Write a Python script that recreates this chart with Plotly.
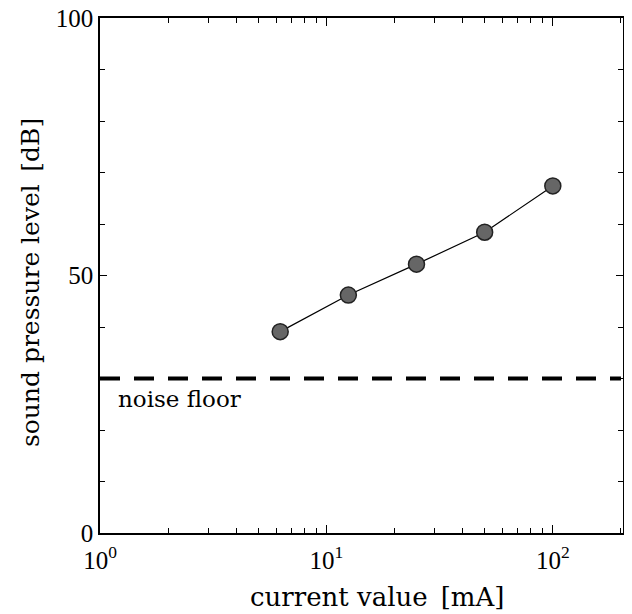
import plotly.graph_objects as go

current_mA = [6.25, 12.5, 25, 50, 100]
spl_dB = [39.1, 46.2, 52.2, 58.4, 67.4]
noise_floor_x = [1, 200]
noise_floor_dB = [30, 30]
x_tick_vals = [1, 10, 100]
x_tick_text = ["10<sup>0</sup>", "10<sup>1</sup>", "10<sup>2</sup>"]
y_tick_vals = [0, 50, 100]
y_tick_text = ["0", "50", "100"]

TICKFONT = "Liberation Serif"
FONT = "DejaVu Serif"

fig = go.Figure()
fig.add_trace(go.Scatter(
    x=noise_floor_x, y=noise_floor_dB, mode="lines",
    line=dict(color="black", width=4, dash="20px,14px"),
    showlegend=False, hoverinfo="skip"))
fig.add_trace(go.Scatter(
    x=current_mA, y=spl_dB, mode="lines+markers",
    line=dict(color="black", width=1.2),
    marker=dict(size=16, color="#666666", line=dict(color="#222", width=1.5)),
    showlegend=False))

fig.add_annotation(x=0.07, y=26.0, xref="x", yref="y", text="noise floor",
                   showarrow=False, xanchor="left", yanchor="middle",
                   font=dict(family=FONT, size=23, color="black"))
fig.add_annotation(x=0.5296, y=-0.124, xref="paper", yref="paper",
                   text="current value\u2002[mA]", showarrow=False,
                   xanchor="center", yanchor="middle",
                   font=dict(family=FONT, size=26, color="black"))
fig.add_annotation(x=-0.134, y=0.487, xref="paper", yref="paper",
                   text="sound pressure level\u2002[dB]", showarrow=False,
                   textangle=-90, xanchor="center", yanchor="middle",
                   font=dict(family=FONT, size=25, color="black"))

fig.update_xaxes(
    type="log", range=[0, 2.31], automargin=False,
    tickvals=x_tick_vals, ticktext=x_tick_text,
    ticks="inside", ticklen=8, tickwidth=1.2, tickcolor="black",
    minor=dict(ticks="inside", dtick="D1", ticklen=5, tickwidth=1, tickcolor="black", showgrid=False),
    showline=True, linecolor="black", linewidth=1.5, mirror="ticks",
    showgrid=False, zeroline=False,
    ticklabelstandoff=4, ticklabeloverflow="allow",
    tickfont=dict(family=TICKFONT, size=25, color="black"),
)
fig.update_yaxes(
    range=[0, 100], automargin=False,
    tickvals=y_tick_vals, ticktext=y_tick_text,
    ticks="inside", ticklen=7, tickwidth=1.2, tickcolor="black",
    minor=dict(ticks="inside", dtick=10, ticklen=5, tickwidth=1, tickcolor="black", showgrid=False),
    showline=True, linecolor="black", linewidth=1.5, mirror="ticks",
    showgrid=False, zeroline=False,
    ticklabeloverflow="allow",
    tickfont=dict(family=TICKFONT, size=25, color="black"),
)

# the page body has an 8px default margin, so the figure is sized to fit the window
fig.update_layout(
    width=624, height=606,
    margin=dict(l=92, r=9, t=10, b=81),
    plot_bgcolor="white", paper_bgcolor="white",
    font=dict(family=FONT, color="black"),
)

fig.write_html("out.html")
